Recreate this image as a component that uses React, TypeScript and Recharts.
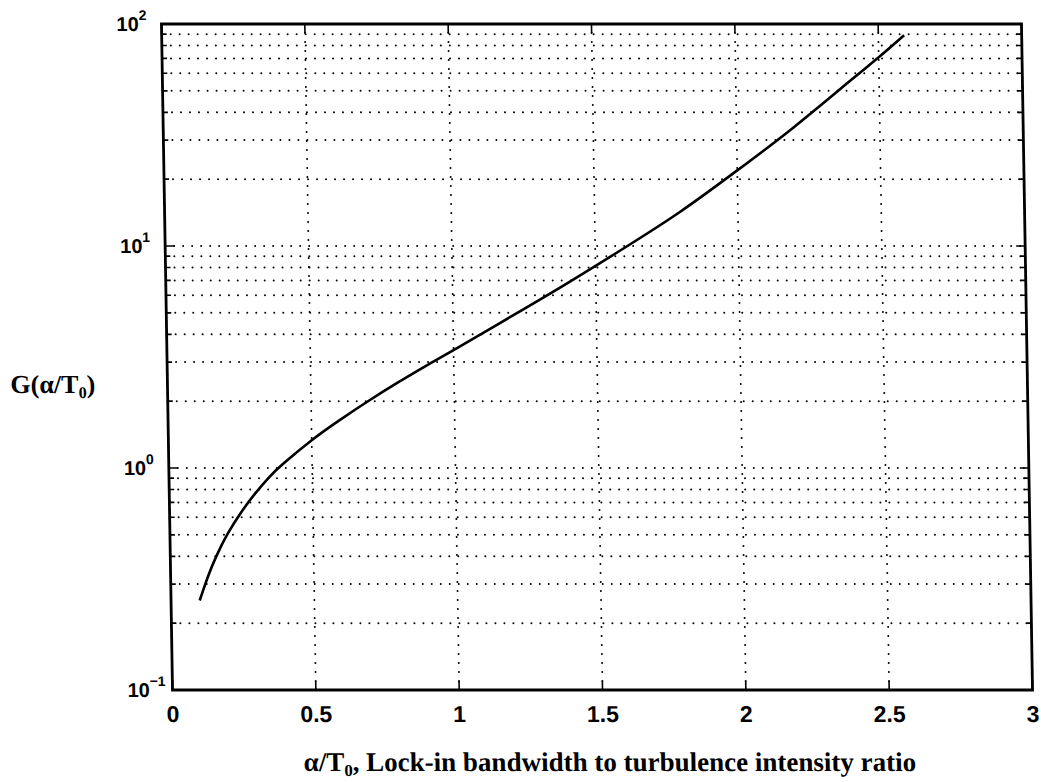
import React from 'react';
import { LineChart, Line, XAxis, YAxis, CartesianGrid, ReferenceArea } from 'recharts';

// ---- data ----
const xValues = [0.10, 0.13, 0.16, 0.20, 0.25, 0.30, 0.35, 0.40, 0.50, 0.60, 0.70, 0.80, 0.90, 1.00, 1.20, 1.40, 1.60, 1.80, 2.00, 2.20, 2.40, 2.50, 2.59];
const gValues = [0.253, 0.324, 0.399, 0.502, 0.632, 0.769, 0.91, 1.047, 1.334, 1.648, 2.004, 2.41, 2.871, 3.396, 4.79, 6.79, 9.77, 14.3, 21.9, 34.3, 55.6, 70.8, 89];

const xTicks = [0, 0.5, 1, 1.5, 2, 2.5, 3];
const xTickLabels = ['0', '0.5', '1', '1.5', '2', '2.5', '3'];

const yGridValues = [
  0.1, 0.2, 0.3, 0.4, 0.5, 0.6, 0.7, 0.8, 0.9,
  1, 2, 3, 4, 5, 6, 7, 8, 9,
  10, 20, 30, 40, 50, 60, 70, 80, 90,
  100,
];
const yDecades = [0.1, 1, 10, 100];
const yDecadeExponents = ['\u22121', '0', '1', '2'];

const data = xValues.map((x, i) => ({ x, g: gValues[i] }));

// ---- layout ----
const W = 1041;
const H = 782;
const PLOT_LEFT = 167;
const PLOT_RIGHT = 1027;
const PLOT_TOP = 24;
const PLOT_BOTTOM = 690;

const SANS = '"Liberation Sans", Arial, sans-serif';
const SERIF = '"Liberation Serif", "Times New Roman", serif';

const YTick = (props: any) => {
  const { x, y, payload } = props;
  const v = payload.value;
  const idx = yDecades.findIndex((d) => Math.abs(d - v) < 1e-9);
  const len = idx >= 0 ? 9 : 5;
  return (
    <g>
      <line x1={x} x2={x + len} y1={y} y2={y} stroke="#000" strokeWidth={1.6} />
      <line x1={PLOT_RIGHT - len} x2={PLOT_RIGHT} y1={y} y2={y} stroke="#000" strokeWidth={1.6} />
      {idx >= 0 && (
        <text
          x={x - 45}
          y={y}
          dominantBaseline="central"
          fontFamily={SANS}
          fontWeight="bold"
          fontSize={20}
          fill="#000"
        >
          10
          <tspan dy={-9} fontSize={14}>
            {yDecadeExponents[idx]}
          </tspan>
        </text>
      )}
    </g>
  );
};

const XTick = (props: any) => {
  const { x, y, payload } = props;
  const idx = xTicks.findIndex((t) => Math.abs(t - payload.value) < 1e-9);
  return (
    <g>
      <line x1={x} x2={x} y1={PLOT_BOTTOM} y2={PLOT_BOTTOM - 9} stroke="#000" strokeWidth={1.6} />
      <line x1={x} x2={x} y1={PLOT_TOP} y2={PLOT_TOP + 9} stroke="#000" strokeWidth={1.6} />
      <text
        x={x}
        y={y + 32}
        textAnchor="middle"
        fontFamily={SANS}
        fontWeight="bold"
        fontSize={23}
        fill="#000"
      >
        {idx >= 0 ? xTickLabels[idx] : ''}
      </text>
    </g>
  );
};

export default function App() {
  return (
    <div
      style={{
        position: 'absolute',
        left: 0,
        top: 0,
        width: W,
        height: H,
        background: '#fff',
        overflow: 'hidden',
      }}
    >
      <div
        style={{
          position: 'absolute',
          left: 0,
          top: 0,
          width: W,
          height: H,
          transform: 'skewX(0.95deg)',
          transformOrigin: '0px 357px',
        }}
      >
        <LineChart
          width={W}
          height={H}
          data={data}
          margin={{ top: PLOT_TOP, right: W - PLOT_RIGHT, bottom: 0, left: 0 }}
        >
          <CartesianGrid
            stroke="#000"
            strokeWidth={2}
            strokeDasharray="0 9"
            strokeLinecap="round"
            horizontalValues={yGridValues}
            verticalValues={xTicks}
          />
          <XAxis
            type="number"
            dataKey="x"
            domain={[0, 3]}
            ticks={xTicks}
            interval={0}
            height={H - PLOT_BOTTOM}
            axisLine={false}
            tickLine={false}
            tickSize={0}
            tickMargin={0}
            tick={<XTick />}
            allowDataOverflow
          />
          <YAxis
            type="number"
            scale="log"
            domain={[0.1, 100]}
            ticks={yGridValues}
            interval={0}
            width={PLOT_LEFT}
            axisLine={false}
            tickLine={false}
            tickSize={0}
            tickMargin={0}
            tick={<YTick />}
            allowDataOverflow
          />
          <ReferenceArea
            x1={0}
            x2={3}
            y1={0.1}
            y2={100}
            fill="none"
            fillOpacity={0}
            stroke="#000"
            strokeWidth={2.8}
            ifOverflow="visible"
          />
          <Line
            type="natural"
            dataKey="g"
            stroke="#000"
            strokeWidth={2.6}
            dot={false}
            isAnimationActive={false}
          />
        </LineChart>
        <div
          style={{
            position: 'absolute',
            left: 10,
            top: 372,
            fontFamily: SERIF,
            fontWeight: 'bold',
            fontSize: 26,
            lineHeight: 1,
            whiteSpace: 'nowrap',
            color: '#000',
          }}
        >
          G(α/T<span style={{ fontSize: '0.62em', position: 'relative', top: '0.3em' }}>0</span>)
        </div>
        <div
          style={{
            position: 'absolute',
            left: 297,
            top: 749,
            fontFamily: SERIF,
            fontWeight: 'bold',
            fontSize: 27,
            lineHeight: 1,
            whiteSpace: 'nowrap',
            color: '#000',
          }}
        >
          α/T<span style={{ fontSize: '0.62em', position: 'relative', top: '0.3em' }}>0</span>, Lock-in bandwidth to turbulence intensity ratio
        </div>
      </div>
    </div>
  );
}
